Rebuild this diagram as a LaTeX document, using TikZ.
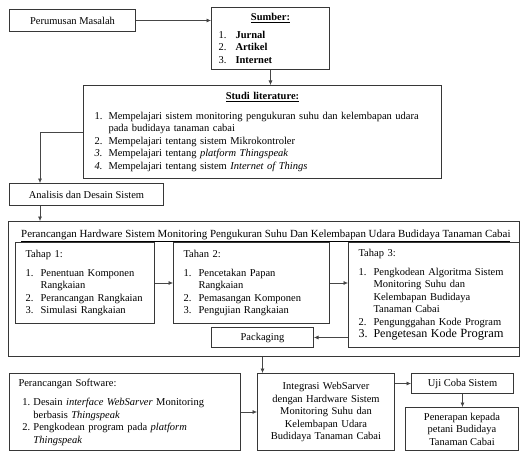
\documentclass[tikz,border=0pt]{standalone}
\usepackage{fontspec}
\setmainfont{Liberation Serif}
\usepackage{enumitem}
\usetikzlibrary{arrows.meta,positioning}
\definecolor{boxline}{RGB}{55,55,55}
\definecolor{arrline}{RGB}{70,70,70}
\setlist[enumerate]{nosep,align=left,label=\arabic*.}
\newcommand{\ttl}[1]{\centerline{\textbf{\underline{#1}}}}

\begin{document}
\begin{tikzpicture}[x=1pt,y=-1pt,
          box/.style={draw=boxline,line width=1pt,inner sep=0pt,
                      font=\fontsize{10.5}{12.5}\selectfont},
          lbox/.style={box,align=left,anchor=north west},
          arr/.style={-{Latex[length=4.5pt,width=4pt]},line width=0.6pt,draw=arrline}]
  \useasboundingbox (0,0) rectangle (520,452);

  \node[box,anchor=north west,minimum width=126pt,minimum height=22pt]
    (masalah) at (9,9) {Perumusan Masalah};
  \node[lbox,inner xsep=7pt,text width=104pt,minimum height=62pt]
    (sumber) at (211,7) {\ttl{Sumber:}
      \begin{enumerate}[leftmargin=17pt,labelsep=7pt,labelwidth=10pt,topsep=5pt]
        \item \textbf{Jurnal}
        \item \textbf{Artikel}
        \item \textbf{Internet}
      \end{enumerate}};
  \node[lbox,inner xsep=11pt,text width=336pt,minimum height=93pt]
    (studi) at (83,85) {\ttl{Studi literature:}
      \begin{enumerate}[leftmargin=14pt,labelsep=4pt,labelwidth=10pt,topsep=7pt]
        \item Mempelajari sistem monitoring pengukuran suhu dan kelembapan udara\newline pada budidaya tanaman cabai
        \item Mempelajari tentang sistem Mikrokontroler
        \item[\textit{3.}] Mempelajari tentang \textit{platform Thingspeak}
        \item[\textit{4.}] Mempelajari tentang sistem \textit{Internet of Things}
      \end{enumerate}};
  \node[box,anchor=north west,minimum width=154pt,minimum height=22pt]
    (analisis) at (9,183) {Analisis dan Desain Sistem};
  \coordinate (ad) at ([xshift=31pt]analisis.south west);

  % hardware
  \node[box,anchor=north west,minimum width=511pt,minimum height=135pt]
    (hw) at (8,221) {};
  \node[anchor=base west,inner sep=0pt,font=\fontsize{10.9}{12.5}\selectfont]
    (hwtitle) at (21,237) {\underline{Perancangan Hardware Sistem Monitoring Pengukuran Suhu Dan Kelembapan Udara Budidaya Tanaman Cabai}};
  \node[lbox,inner xsep=10pt,text width=119pt,minimum height=81pt]
    (tahap1) at (15,242) {Tahap 1:
      \begin{enumerate}[leftmargin=15pt,labelsep=3pt,labelwidth=12pt,topsep=6pt]
        \item Penentuan Komponen\newline Rangkaian
        \item Perancangan Rangkaian
        \item Simulasi Rangkaian
      \end{enumerate}};
  \node[lbox,inner xsep=10pt,text width=136pt,minimum height=81pt,
        right=18pt of tahap1.north east,anchor=north west]
    (tahap2) {Tahan 2:
      \begin{enumerate}[leftmargin=15pt,labelsep=3pt,labelwidth=12pt,topsep=6pt]
        \item Pencetakan Papan\newline Rangkaian
        \item Pemasangan Komponen
        \item Pengujian Rangkaian
      \end{enumerate}};
  \node[lbox,inner xsep=10pt,text width=151pt,minimum height=105pt,
        right=18pt of tahap2.north east,anchor=north west]
    (tahap3) {Tahap 3:
      \begin{enumerate}[leftmargin=15pt,labelsep=3pt,labelwidth=12pt,topsep=6pt]
        \item Pengkodean Algoritma Sistem\newline Monitoring Suhu dan\newline Kelembapan Budidaya\newline Tanaman Cabai
        \item Pengunggahan Kode Program
        \item[{\fontsize{12}{15}\selectfont 3.}] {\fontsize{12}{15}\selectfont Pengetesan Kode \fontsize{12.5}{15}\selectfont Program}
      \end{enumerate}};
  \node[box,anchor=north west,minimum width=102pt,minimum height=20pt]
    (pack) at (211,327) {Packaging};

  % software dan integrasi
  \node[lbox,inner xsep=9pt,text width=213pt,minimum height=77pt]
    (soft) at (9,373) {Perancangan Software:
      \begin{enumerate}[leftmargin=15pt,labelsep=2pt,labelwidth=9pt,topsep=7pt]
        \item Desain \textit{interface WebSarver} Monitoring\newline berbasis \textit{Thingspeak}
        \item Pengkodean program pada \textit{platform}\newline \textit{Thingspeak}
      \end{enumerate}};
  \node[box,anchor=north west,align=center,text width=125pt,inner xsep=6pt,
        minimum height=77pt]
    (integ) at (257,373) {Integrasi WebSarver\\dengan Hardware Sistem\\Monitoring Suhu dan\\Kelembapan Udara\\Budidaya Tanaman Cabai};
  \node[box,anchor=north west,minimum width=102pt,minimum height=20pt]
    (uji) at (411,373) {Uji Coba Sistem};
  \node[box,anchor=north west,align=center,minimum width=113pt,minimum height=43pt]
    (terap) at (405,407) {Penerapan kepada\\petani Budidaya\\Tanaman Cabai};

  \draw[arr] (masalah.east) -- (masalah.east -| sumber.west);
  \draw[arr] (sumber.south) -- (sumber.south |- studi.north);
  \draw[arr] (studi.west) -| (ad |- analisis.north);
  \draw[arr] (ad) -- (ad |- hw.north);
  \draw[arr] (tahap1) -- (tahap2);
  \draw[arr] (tahap2.east) -- (tahap2.east -| tahap3.west);
  \draw[arr] (pack -| tahap3.west) -- (pack.east);
  \draw[arr] (pack.south |- hw.south) -- (pack.south |- integ.north);
  \draw[arr] (soft) -- (integ);
  \draw[arr] (integ.east |- uji) -- (uji.west);
  \draw[arr] (uji.south) -- (uji.south |- terap.north);
\end{tikzpicture}
\end{document}
